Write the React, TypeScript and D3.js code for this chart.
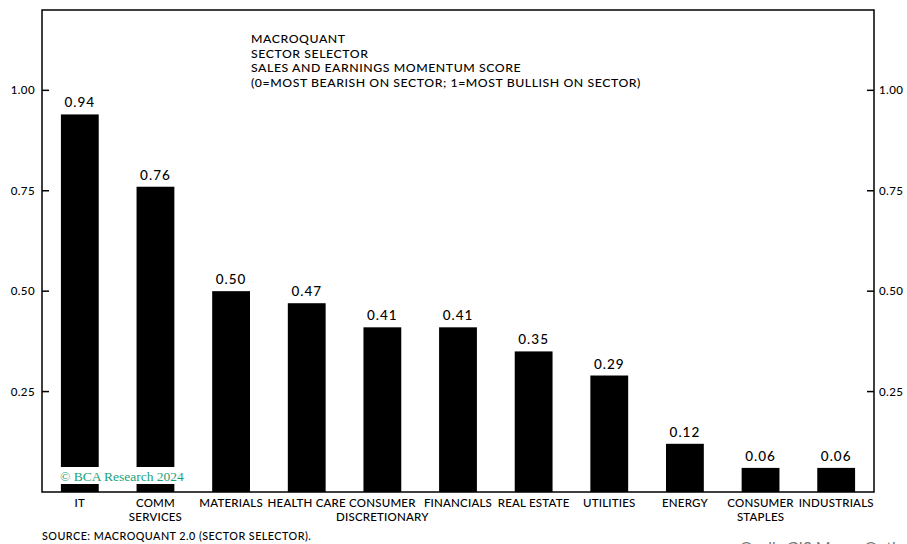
import React from "react";
import * as d3 from "d3";

const categories = ["IT", "COMM\nSERVICES", "MATERIALS", "HEALTH CARE", "CONSUMER\nDISCRETIONARY", "FINANCIALS", "REAL ESTATE", "UTILITIES", "ENERGY", "CONSUMER\nSTAPLES", "INDUSTRIALS"];
const scores = [0.94, 0.76, 0.5, 0.47, 0.41, 0.41, 0.35, 0.29, 0.12, 0.06, 0.06];
const yTicks = [0.25, 0.5, 0.75, 1.0];
const titleLines = ["MACROQUANT", "SECTOR SELECTOR", "SALES AND EARNINGS MOMENTUM SCORE", "(0=MOST BEARISH ON SECTOR; 1=MOST BULLISH ON SECTOR)"];
const sourceText = "SOURCE: MACROQUANT 2.0 (SECTOR SELECTOR).";
const copyright = "© BCA Research 2024";
const footerRight = "Ozells GIS Macro Outlook";

const W = 907, H = 544;
const left = 42, right = 874, top = 10, bottom = 492;
const FONT = "Lato, 'Open Sans', sans-serif";

export default function App() {
  const x = d3.scaleBand<string>().domain(categories).range([left, right]).paddingInner(0.5).paddingOuter(0.25);
  const y = d3.scaleLinear().domain([0, 1.2]).range([bottom, top]);
  const fmt = d3.format(".2f");
  return (
    <svg width={W} height={H} style={{ position: "absolute", left: 0, top: 0, background: "#fff" }} fontFamily={FONT} fontWeight={500}>
      {categories.map((c, i) => (
        <rect key={c} x={x(c)} y={y(scores[i])} width={x.bandwidth()} height={bottom - y(scores[i])} fill="#000" />
      ))}
      {categories.map((c, i) => (
        <text key={"v" + c} x={(x(c) as number) + x.bandwidth() / 2} y={y(scores[i]) - 7} textAnchor="middle" fontSize={13.5} letterSpacing={1} fill="#000">
          {fmt(scores[i])}
        </text>
      ))}
      <rect x={59} y={467} width={124} height={17} fill="#fff" />
      <text x={60} y={481} fontFamily="'Liberation Serif', 'DejaVu Serif', serif" fontWeight={400} fontSize={13.5} fill="#1aa37a">{copyright}</text>
      <rect x={left} y={top} width={right - left} height={bottom - top} fill="none" stroke="#000" strokeWidth={1.5} />
      {yTicks.map((t) => (
        <g key={t}>
          <line x1={left} x2={left + 7} y1={y(t)} y2={y(t)} stroke="#000" strokeWidth={1.5} />
          <line x1={right - 7} x2={right} y1={y(t)} y2={y(t)} stroke="#000" strokeWidth={1.5} />
          <text x={35} y={y(t) + 4} textAnchor="end" fontSize={11.5} letterSpacing={0.4}>{fmt(t)}</text>
          <text x={879} y={y(t) + 4} textAnchor="start" fontSize={11.5} letterSpacing={0.4}>{fmt(t)}</text>
        </g>
      ))}
      {categories.map((c) => (
        <text key={"c" + c} x={(x(c) as number) + x.bandwidth() / 2} y={507} textAnchor="middle" fontSize={11.5} letterSpacing={0.2}>
          {c.split("\n").map((ln, j) => (
            <tspan key={j} x={(x(c) as number) + x.bandwidth() / 2} dy={j === 0 ? 0 : 13.5}>{ln}</tspan>
          ))}
        </text>
      ))}
      {titleLines.map((t, i) => (
        <text key={t} x={251} y={43 + i * 14.5} fontSize={12.3} letterSpacing={0.55}>{t}</text>
      ))}
      <text x={42} y={540} fontSize={10.8} letterSpacing={0.45}>{sourceText}</text>
      <text x={740} y={553} fontSize={16} fontWeight={400} fill="#777">{footerRight}</text>
    </svg>
  );
}
